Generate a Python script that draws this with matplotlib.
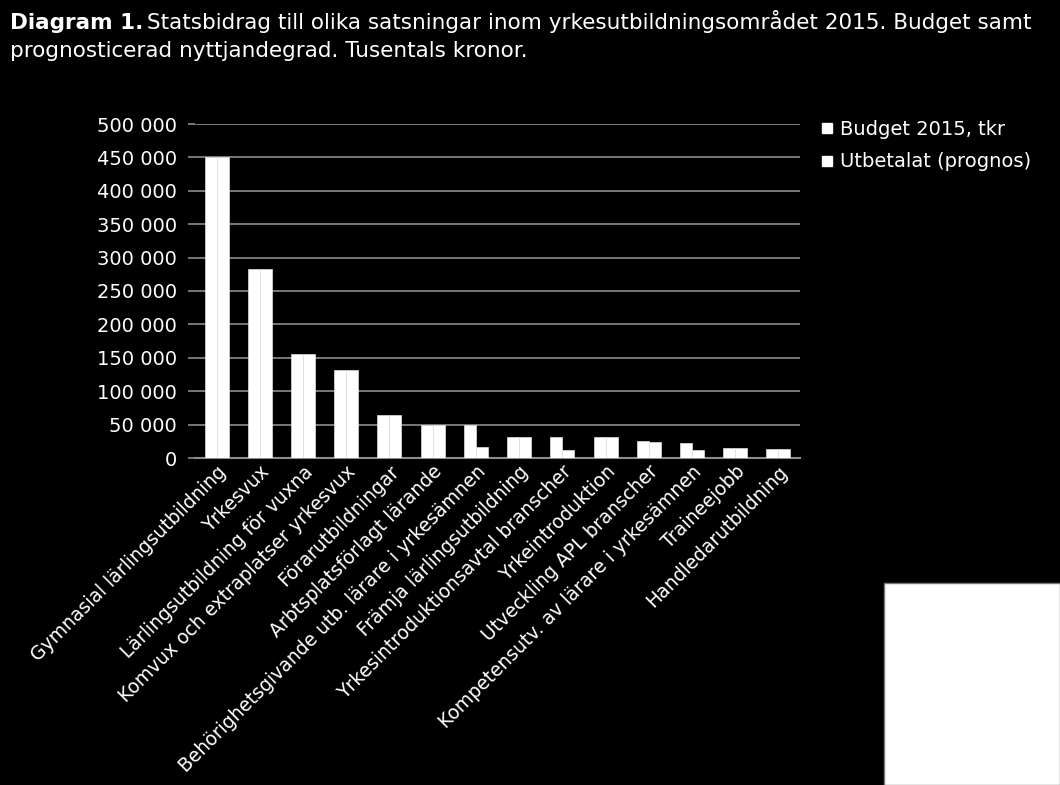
import matplotlib
matplotlib.use('Agg')
import matplotlib.pyplot as plt
import numpy as np
from matplotlib.patches import Rectangle
from matplotlib.ticker import FuncFormatter

plt.rcParams['font.family'] = ['DejaVu Sans']

categories = ['Gymnasial lärlingsutbildning', 'Yrkesvux', 'Lärlingsutbildning för vuxna',
              'Komvux och extraplatser yrkesvux', 'Förarutbildningar', 'Arbtsplatsförlagt lärande',
              'Behörighetsgivande utb. lärare i yrkesämnen', 'Främja lärlingsutbildning',
              'Yrkesintroduktionsavtal branscher', 'Yrkeintroduktion', 'Utveckling APL branscher',
              'Kompetensutv. av lärare i yrkesämnen', 'Traineejobb', 'Handledarutbildning']
budget = [450000, 283000, 155000, 132000, 65000, 50000, 50000, 32000, 32000, 32000, 25000, 22500, 14500, 13000]
utbetalat = [450000, 283000, 155000, 132000, 65000, 50000, 16500, 32000, 12500, 32000, 23500, 12000, 14500, 13000]
series_names = ['Budget 2015, tkr', 'Utbetalat (prognos)']

fig = plt.figure(figsize=(10.6, 7.85), dpi=100)
fig.patch.set_facecolor('black')
ax = fig.add_axes([195/1060, 1 - 458/785, (800 - 195)/1060, (458 - 124)/785])
ax.set_facecolor('black')

x = np.arange(len(categories))
w = 0.278
ax.bar(x - w/2, budget, w, color='white', edgecolor='#e0e0e0', linewidth=0.5, label=series_names[0], zorder=3)
ax.bar(x + w/2, utbetalat, w, color='white', edgecolor='#e0e0e0', linewidth=0.5, label=series_names[1], zorder=3)

ax.set_xlim(-0.5, len(categories) - 0.5)
ax.set_ylim(0, 500000)
ax.set_yticks(np.arange(0, 500001, 50000))
ax.yaxis.set_major_formatter(FuncFormatter(lambda v, p: '{:,}'.format(int(v)).replace(',', ' ')))
ax.grid(axis='y', color='#8c8c8c', linewidth=1.2, zorder=0)
for s in ['top', 'right', 'left']:
    ax.spines[s].set_visible(False)
ax.spines['bottom'].set_color('#8c8c8c')
ax.spines['bottom'].set_linewidth(1.5)
ax.tick_params(axis='y', colors='#8c8c8c', length=5, width=1.2, labelcolor='white', labelsize=14, pad=8)
ax.tick_params(axis='x', length=0, labelcolor='white', labelsize=13.5, pad=3)
ax.set_xticks(x)
ax.set_xticklabels(categories, rotation=45, ha='right', va='top', rotation_mode='anchor')

handles = [plt.Line2D([], [], marker='s', color='white', linestyle='none', markersize=7) for _ in series_names]
leg = fig.legend(handles, series_names, loc='upper left', bbox_to_anchor=(813/1060, 1 - 112/785),
                 frameon=False, fontsize=14, labelcolor='white', handlelength=0.6, handletextpad=0.4,
                 labelspacing=0.7, borderaxespad=0)

# title with bold lead
t1 = fig.text(10/1060, 1 - 29/785, 'Diagram 1.', color='white', fontsize=15.5, fontweight='bold')
fig.canvas.draw()
bb = t1.get_window_extent()
fig.text(bb.x1/1060 + 4/1060, 1 - 29/785,
         'Statsbidrag till olika satsningar inom yrkesutbildningsområdet 2015. Budget samt',
         color='white', fontsize=15.5)
fig.text(10/1060, 1 - 57/785, 'prognosticerad nyttjandegrad. Tusentals kronor.', color='white', fontsize=15.5)

# white box in lower right corner
fig.patches.append(Rectangle((884/1060, 0), 176/1060, 202/785, transform=fig.transFigure,
                             facecolor='white', edgecolor='#777777', linewidth=1, figure=fig))

fig.savefig('out.png', dpi=100, facecolor='black')
